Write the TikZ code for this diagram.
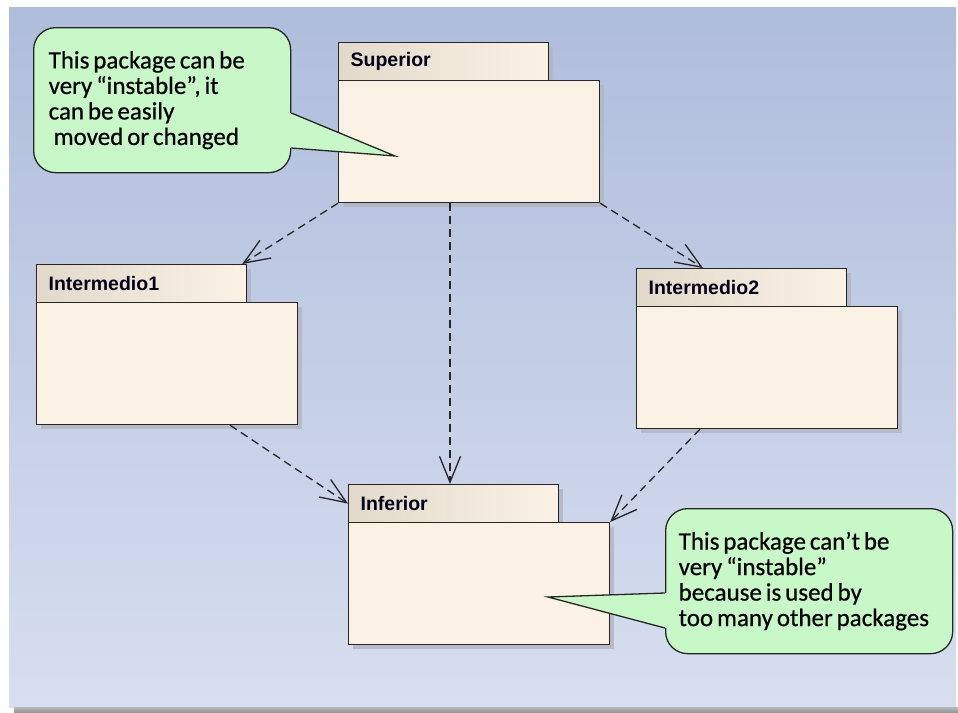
\documentclass[tikz,border=0pt]{standalone}
\usepackage{fontspec}
\usetikzlibrary{arrows.meta,calc,shadows}
\newfontfamily\notefont{Carlito}[FakeBold=0.5]
\newfontfamily\pkgfont{Liberation Sans}
\newcommand\tightsp{\spaceskip=3.9pt plus 0.5pt\xspaceskip=3.9pt\relax}
\definecolor{bgtop}{HTML}{AFBDDC}
\definecolor{bgbot}{HTML}{D7DEEF}
\definecolor{bodyfill}{HTML}{FBF1E4}
\definecolor{tableft}{HTML}{E3D9CB}
\definecolor{tabright}{HTML}{FBF2E5}
\definecolor{notefill}{HTML}{C8F8C8}
\definecolor{shadowgray}{HTML}{B4B8C4}
\tikzset{
  pkgshadow/.style={drop shadow={shadow xshift=4pt,shadow yshift=-4pt,fill=shadowgray,opacity=0.9}},
  pkgtab/.style={draw=black!85,line width=1.2pt,left color=tableft,right color=tabright,
    anchor=north west,minimum width=210pt,minimum height=38pt,inner xsep=12pt,inner ysep=0pt,
    text width=186pt,align=left,font=\pkgfont\bfseries\fontsize{19.5}{20}\selectfont,text=black!90!blue,pkgshadow},
  pkgbody/.style={draw=black!85,line width=1.2pt,fill=bodyfill,anchor=north west,
    minimum width=261pt,minimum height=122pt,inner sep=0pt,pkgshadow},
  dep/.style={draw=black!85,line width=1.3pt,dash pattern=on 8pt off 5pt,
    -{Straight Barb[length=26pt,width=21pt,line width=1.3pt]}},
  notebox/.style={draw=black!85,line width=1.3pt,fill=notefill,rounded corners=22pt,
    anchor=north west,minimum width=257pt,minimum height=145pt,inner ysep=0pt,
    align=left,font=\notefont\fontsize{25}{25.5}\selectfont},
  notefillonly/.style={fill=notefill},
  noteline/.style={draw=black!85,line width=1.3pt,line join=miter},
}
\begin{document}
\begin{tikzpicture}[x=1pt,y=-1pt]
\useasboundingbox (0,0) rectangle (958,712);
% background
\fill[white] (0,0) rectangle (958,712);
\shade[top color=bgtop,bottom color=bgbot] (9,7) rectangle (956,707);
\shade[top color=black!28,bottom color=black!40] (14,707) rectangle (958,712);

% packages
\node[pkgtab] (supT) at (338,42) {Superior};
\node[pkgbody] (supB) at (338,80) {};
\node[pkgtab] (i1T) at (36,264) {Intermedio1};
\node[pkgbody] (i1B) at (36,302) {};
\node[pkgtab] (i2T) at (636,268) {Intermedio2};
\node[pkgbody] (i2B) at (636,306) {};
\node[pkgtab] (infT) at (348,484) {Inferior};
\node[pkgbody] (infB) at (348,522) {};

% dependencies
\draw[dep] (supB.south west) -- ([xshift=-5pt]i1T.north east);
\draw[dep] ([xshift=112pt]supB.south west) -- ([xshift=112pt]supB.south west |- infT.north);
\draw[dep] (supB.south east) -- ([xshift=67pt]i2T.north west);
\draw[dep] ([xshift=194pt]i1B.south west) -- (infT.west);
\draw[dep] ([xshift=64pt]i2B.south west) -- (infB.north east);

% note 1
\node[notebox,inner xsep=15pt,text width=227pt] (n1) at (33,27)
  {\tightsp This package can be\\very “instable”, it\\can be easily\\\hspace*{5pt}moved or changed};
\coordinate (t1) at (395,156);
\fill[notefillonly] ($(n1.north east)+(-3,86)$) -- ($(n1.north east)+(0,86)$) -- (t1)
  -- ($(n1.north east)+(0,121)$) -- ($(n1.north east)+(-3,121)$) -- cycle;
\draw[noteline] ($(n1.north east)+(0,86)$) -- (t1) -- ($(n1.north east)+(0,121)$);

% note 2
\node[notebox,minimum width=287pt,inner xsep=13pt,text width=261pt] (n2) at (665,508)
  {\tightsp This package can’t be\\very “instable”\\because is used by\\too many other packages};
\coordinate (t2) at (548,597);
\fill[notefillonly] ($(n2.north west)+(3,85)$) -- ($(n2.north west)+(0,85)$) -- (t2)
  -- ($(n2.north west)+(0,120)$) -- ($(n2.north west)+(3,120)$) -- cycle;
\draw[noteline] ($(n2.north west)+(0,85)$) -- (t2) -- ($(n2.north west)+(0,120)$);
\end{tikzpicture}
\end{document}
